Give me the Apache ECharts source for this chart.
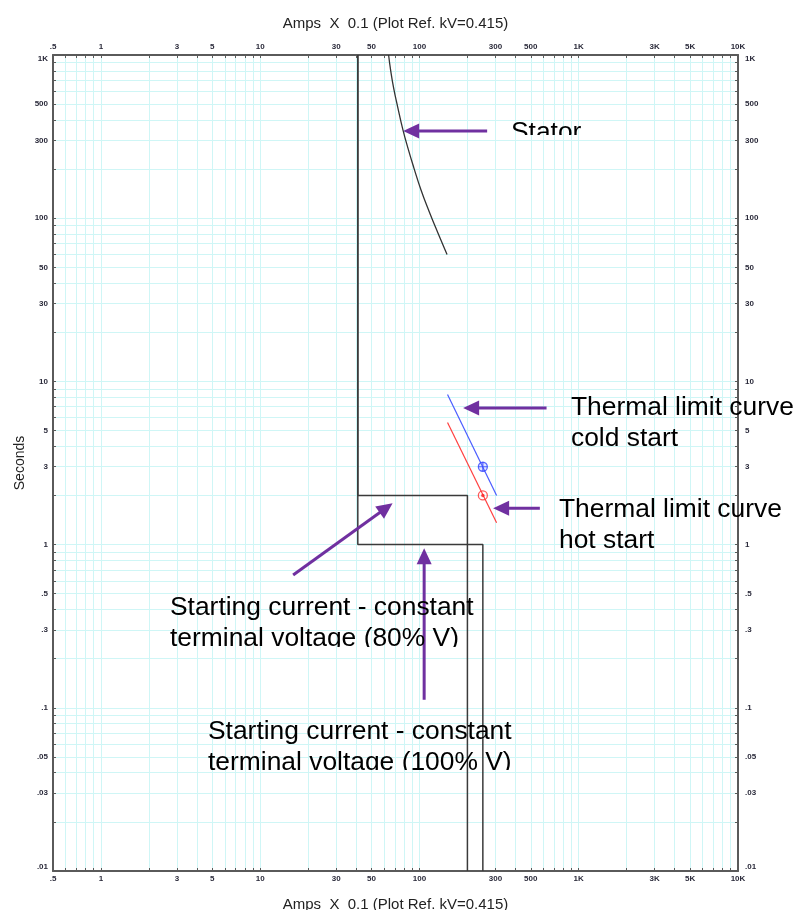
<!DOCTYPE html>
<html><head><meta charset="utf-8">
<script src="https://cdn.jsdelivr.net/npm/echarts@6/dist/echarts.min.js"></script>
<style>html,body{margin:0;padding:0;background:#fff}#c{width:797px;height:910px}</style>
</head><body><div id="c"></div>
<script>
// ---- data ----
const xLabelValues = [0.5, 1, 3, 5, 10, 30, 50, 100, 300, 500, 1000, 3000, 5000, 10000];
const yLabelValues = [0.01, 0.03, 0.05, 0.1, 0.3, 0.5, 1, 3, 5, 10, 30, 50, 100, 300, 500, 1000];
const xDecades = [0.1, 1, 10, 100, 1000];
const yDecades = [0.01, 0.1, 1, 10, 100];
const multipliers = [1, 2, 3, 4, 5, 6, 7, 8, 9];

const statorCurve = [[64, 1000], [66, 800], [69, 620], [73, 480], [78.6, 350], [85, 265], [92, 205], [102, 150], [115, 110], [130, 82], [149, 60]];
const start80 = [[41, 1000], [41, 2], [200, 2], [200, 0.01]];
const start100 = [[41, 1000], [41, 1], [250, 1], [250, 0.01]];
const thermalCold = [[150, 8.3], [305, 2.0]];
const thermalHot = [[150, 5.6], [305, 1.36]];
const coldPoint = [[250, 3]];
const hotPoint = [[250, 2]];

// arrow annotations (data coords: tail -> tip)
const arrowTails = [[266, 342], [628, 6.87], [570, 1.67], [16.1, 0.651], [107, 0.112]];
const arrowTips  = [[79, 342], [188, 6.87], [290, 1.67], [67.8, 1.79], [107, 0.949]];
const noteTexts = ['Stator', 'Thermal limit curve\ncold start', 'Thermal limit curve\nhot start',
  'Starting current - constant\nterminal voltage (80% V)', 'Starting current - constant\nterminal voltage (100% V)'];
const axisTitle = 'Amps  X  0.1 (Plot Ref. kV=0.415)';
const yTitle = 'Seconds';

// ---- helpers ----
function ticksFor(decades, lo, hi) {
  const out = [];
  decades.forEach(d => multipliers.forEach(m => {
    const v = +(m * d).toPrecision(6);
    if (v >= lo - 1e-9 && v <= hi + 1e-9) out.push(v);
  }));
  return out;
}
const xTickValues = ticksFor(xDecades, 0.5, 10000);
const yTickValues = ticksFor(yDecades, 0.01, 1000);

function fmt(v) {
  if (v >= 1000) return (v / 1000) + 'K';
  if (v < 1) return String(v).replace(/^0/, '');
  return String(v);
}
const LABEL_FONT = '"Liberation Sans", Arial, sans-serif';
const GRID_COLOR = '#cff6f6';
const AXIS_COLOR = '#5a5a5a';

function makeAxis(isX, pos, withName, nameGap, margin) {
  const a = {
    type: 'log', logBase: 10, position: pos,
    min: isX ? 0.5 : 0.01, max: isX ? 10000 : 1000,
    axisLine: { show: true, onZero: false, lineStyle: { color: AXIS_COLOR, width: 2 } },
    axisTick: { show: true, inside: true, length: 3, customValues: isX ? xTickValues : yTickValues,
      lineStyle: { color: AXIS_COLOR, width: 1 } },
    axisLabel: { show: true, customValues: isX ? xLabelValues : yLabelValues, formatter: fmt,
      fontSize: 8, fontWeight: 'bold', fontFamily: LABEL_FONT, color: '#2a2a3a', margin: margin,
      showMinLabel: true, showMaxLabel: true },
    splitLine: { show: true, lineStyle: { color: GRID_COLOR, width: 1 } },
    minorTick: { show: false }, minorSplitLine: { show: false }
  };
  if (!isX) { a.axisLabel.verticalAlignMaxLabel = 'top'; a.axisLabel.verticalAlignMinLabel = 'bottom'; }
  if (withName) {
    a.name = isX ? axisTitle : yTitle;
    a.nameLocation = 'middle';
    a.nameGap = nameGap;
    a.nameTextStyle = { fontSize: isX ? 15 : 14, fontFamily: LABEL_FONT, color: '#222' };
    if (!isX) { a.nameRotate = 90; a.nameMoveOverlap = false; }
  }
  return a;
}

const chart = echarts.init(document.getElementById('c'), null, { renderer: 'canvas' });
const lineBase = { type: 'line', showSymbol: false, symbol: 'none', animation: false, silent: true, z: 3 };
chart.setOption({
  animation: false,
  backgroundColor: '#fff',
  grid: { left: 53, right: 59, top: 55, bottom: 39, containLabel: false, outerBoundsMode: 'none' },
  xAxis: [makeAxis(true, 'bottom', true, 26, 4), makeAxis(true, 'top', true, 24, 4)],
  yAxis: [makeAxis(false, 'left', true, 26, 5), makeAxis(false, 'right', false, 0, 7)],
  series: [
    Object.assign({}, lineBase, { name: 'Stator', data: statorCurve, smooth: true, lineStyle: { color: '#333', width: 1.3 } }),
    Object.assign({}, lineBase, { name: 'Start 80%', data: start80, lineStyle: { color: '#3a3a3a', width: 1.5 } }),
    Object.assign({}, lineBase, { name: 'Start 100%', data: start100, lineStyle: { color: '#3a3a3a', width: 1.5 } }),
    Object.assign({}, lineBase, { name: 'Thermal cold', data: thermalCold, lineStyle: { color: '#4a5cff', width: 1.2 } }),
    Object.assign({}, lineBase, { name: 'Thermal hot', data: thermalHot, lineStyle: { color: '#ff4040', width: 1.2 } }),
    { type: 'scatter', data: coldPoint, symbol: 'circle', symbolSize: 9, z: 4, silent: true,
      itemStyle: { color: 'rgba(120,140,255,0.25)', borderColor: '#3344ff', borderWidth: 1.3 } },
    { type: 'scatter', data: coldPoint, symbol: 'path://M0,5L10,5M5,0L5,10', symbolSize: 9, z: 5, silent: true,
      itemStyle: { color: 'none', borderColor: '#3344ff', borderWidth: 1.2 } },
    { type: 'scatter', data: hotPoint, symbol: 'circle', symbolSize: 9, z: 4, silent: true,
      itemStyle: { color: 'rgba(255,255,255,0)', borderColor: '#ff3030', borderWidth: 1.3 } },
    { type: 'scatter', data: hotPoint, symbol: 'circle', symbolSize: 3.5, z: 5, silent: true,
      itemStyle: { color: '#ff2020' } }
  ]
});

// ---- annotations: arrows placed through the chart's own scales ----
const notePos = [[511, 117], [571, 392], [559, 494], [170, 592], [208, 716]];
const noteClipBottom = [135, null, null, 647, 770];
const ARROW = '#7030a0';
const graphics = [];
arrowTails.forEach((tail, i) => {
  const p0 = chart.convertToPixel({ gridIndex: 0 }, tail);
  const p1 = chart.convertToPixel({ gridIndex: 0 }, arrowTips[i]);
  const dx = p1[0] - p0[0], dy = p1[1] - p0[1];
  const len = Math.sqrt(dx * dx + dy * dy);
  const ux = dx / len, uy = dy / len;
  const headLen = 16, halfW = 7.5;
  const bx = p1[0] - ux * headLen, by = p1[1] - uy * headLen;
  graphics.push({ type: 'line', silent: true, z: 10,
    shape: { x1: p0[0], y1: p0[1], x2: bx + ux * 2, y2: by + uy * 2 },
    style: { stroke: ARROW, lineWidth: 3 } });
  graphics.push({ type: 'polygon', silent: true, z: 10,
    shape: { points: [[p1[0], p1[1]], [bx - uy * halfW, by + ux * halfW], [bx + uy * halfW, by - ux * halfW]] },
    style: { fill: ARROW } });
});
const NOTE_FONT = '26.4px "Liberation Sans", Arial, sans-serif';
const zrTexts = [];
noteTexts.forEach((t, i) => {
  const style = { text: t, x: notePos[i][0], y: notePos[i][1], font: NOTE_FONT, fill: '#000', lineHeight: 31, verticalAlign: 'top', align: 'left' };
  if (noteClipBottom[i] != null && echarts.graphic && echarts.graphic.Text && echarts.graphic.Rect) {
    zrTexts.push({ style: style, clip: noteClipBottom[i] });
  } else {
    graphics.push({ type: 'text', silent: true, z: 11, style: style });
  }
});
chart.setOption({ graphic: graphics });
const zr = chart.getZr();
zrTexts.forEach(o => {
  const el = new echarts.graphic.Text({ style: o.style, z: 100, silent: true });
  el.setClipPath(new echarts.graphic.Rect({ shape: { x: o.style.x - 5, y: o.style.y - 10, width: 420, height: o.clip - (o.style.y - 10) } }));
  zr.add(el);
});
</script>
</body></html>
